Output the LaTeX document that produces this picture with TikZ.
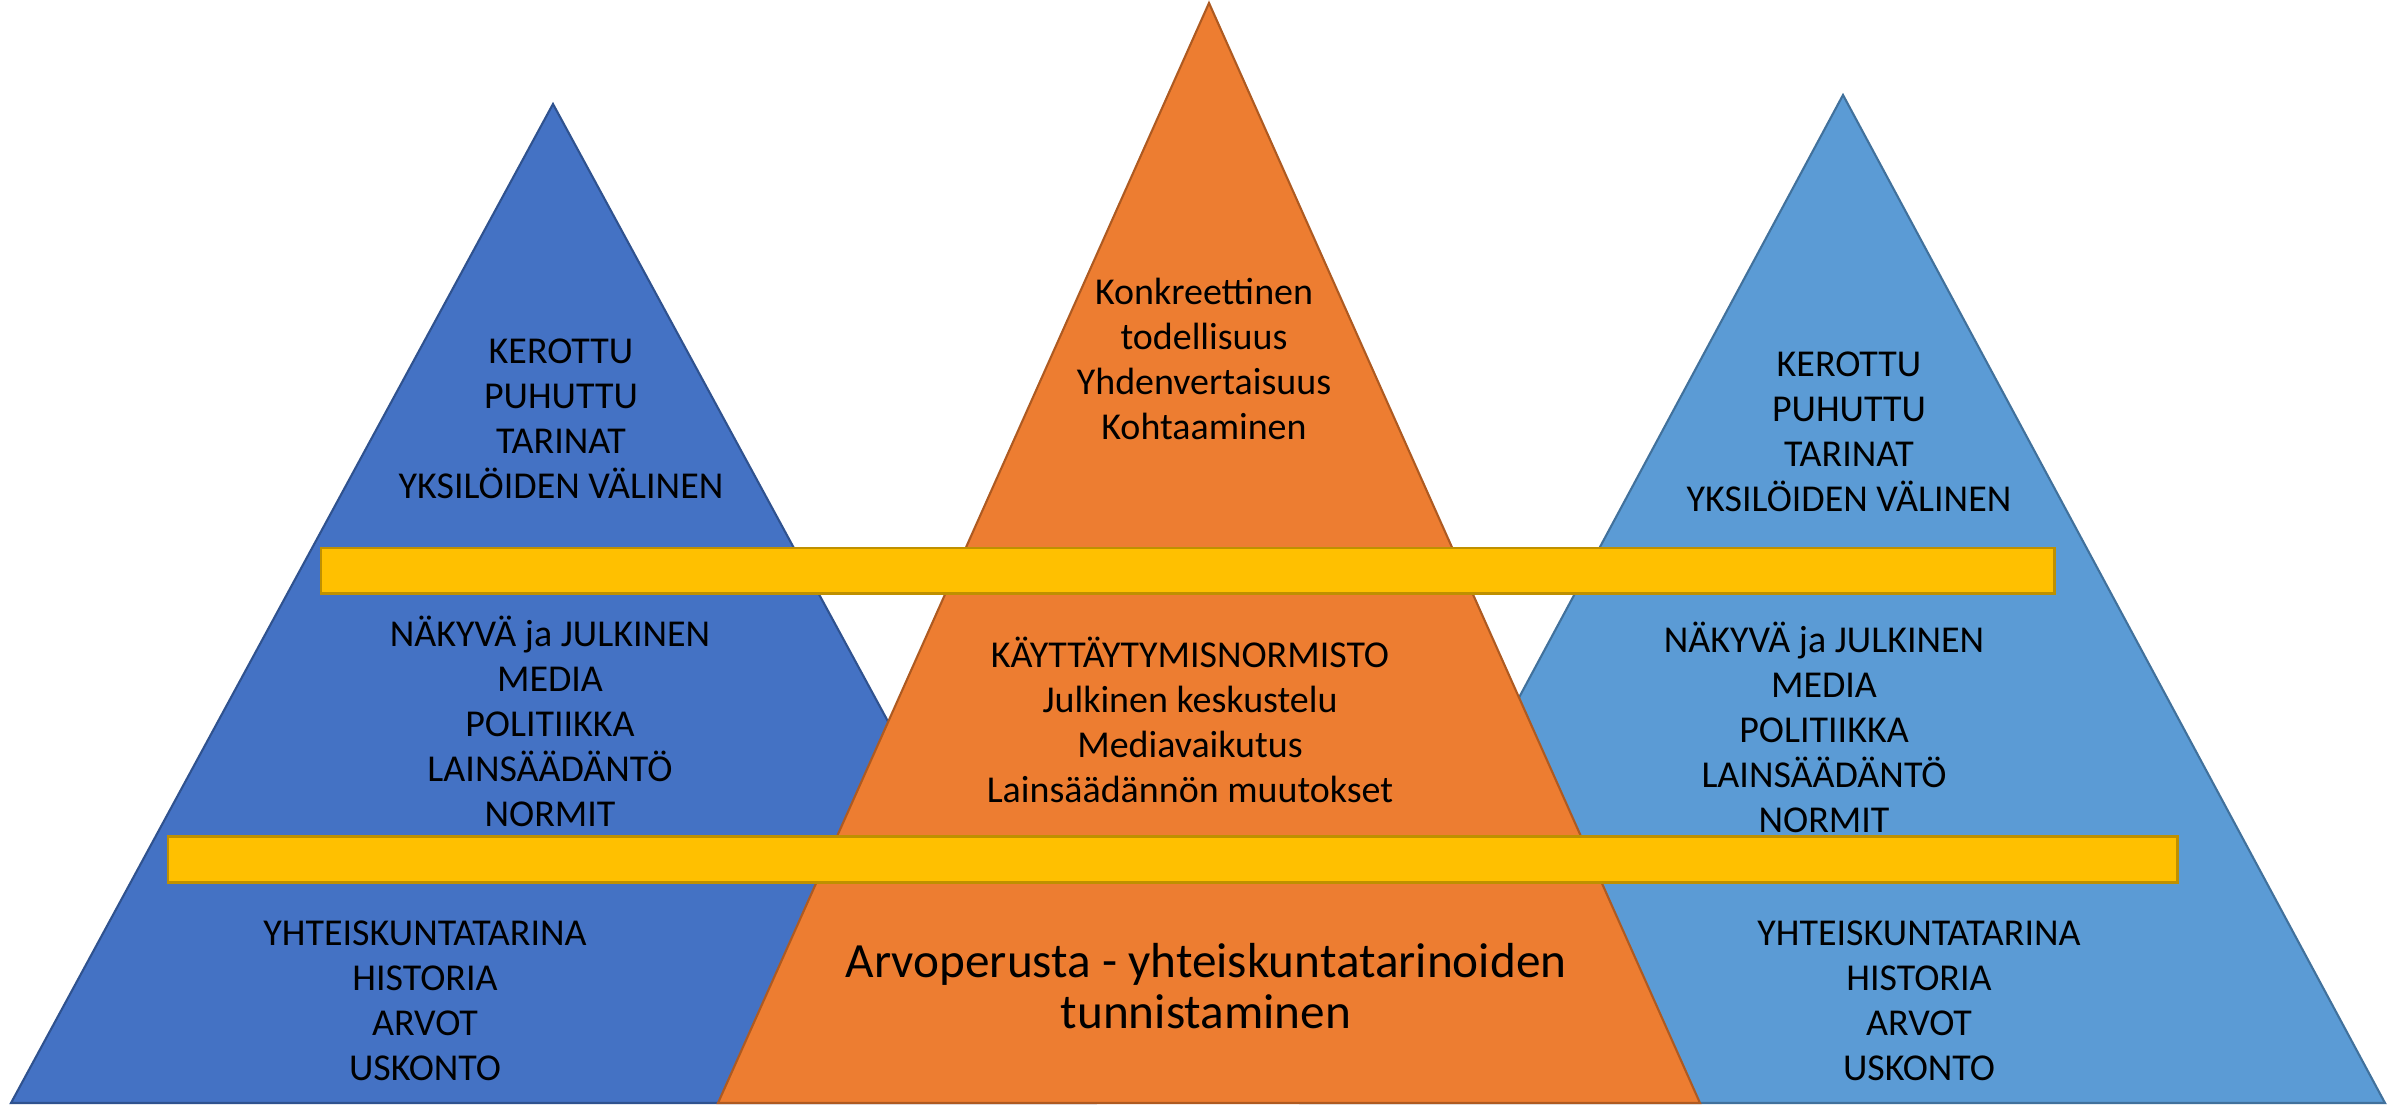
\documentclass[tikz,border=0pt]{standalone}
\usepackage{fontspec}
\setmainfont{Carlito}
\usepackage{tikz}
\usetikzlibrary{positioning}

\definecolor{leftblue}{HTML}{4472C4}
\definecolor{leftline}{HTML}{2F528F}
\definecolor{rightblue}{HTML}{5B9BD5}
\definecolor{rightline}{HTML}{41719C}
\definecolor{midorange}{HTML}{ED7D31}
\definecolor{midline}{HTML}{AE5A21}
\definecolor{bargold}{HTML}{FFC000}
\definecolor{barline}{HTML}{BF9000}

\begin{document}
\begin{tikzpicture}[x=0.01cm,y=-0.01cm,
    txt/.style={align=center,inner sep=0pt,font=\fontsize{10.8}{12.8}\selectfont},
    bar/.style={fill=bargold,draw=barline,line width=0.85pt}]

\useasboundingbox (0,0) rectangle (2396,1106);

% triangles
\draw[fill=leftblue,draw=leftline,line width=0.6pt]
    (11,1103) -- (553,104) -- (1095,1103) -- cycle;
\draw[fill=rightblue,draw=rightline,line width=0.6pt]
    (1301,1103) -- (1843,95) -- (2385,1103) -- cycle;
\draw[fill=midorange,draw=midline,line width=0.6pt]
    (718,1103) -- (1209,3) -- (1700,1103) -- cycle;

% bars
\draw[bar] (321,548) rectangle (2054,593);
\draw[bar] (168,836) rectangle (2177,882);

% left
\node[txt] (ltop) at (561,419) {KEROTTU\\PUHUTTU\\TARINAT\\YKSILÖIDEN VÄLINEN};
\node[txt] (lmid) at (550,721) {NÄKYVÄ ja JULKINEN\\MEDIA\\POLITIIKKA\\LAINSÄÄDÄNTÖ\\NORMIT};
\node[txt] (lbot) at (425,1001) {YHTEISKUNTATARINA\\HISTORIA\\ARVOT\\USKONTO};

% middle
\node[txt] (mtop) at (1204,359) {Konkreettinen\\todellisuus\\Yhdenvertaisuus\\Kohtaaminen};
\node[txt] (mmid) at (1190,720) {KÄYTTÄYTYMISNORMISTO\\Julkinen keskustelu\\Mediavaikutus\\Lainsäädännön muutokset};
\node[txt,font=\fontsize{14}{14.5}\selectfont] (mbot) at (1206,986)
    {Arvoperusta - yhteiskuntatarinoiden\\tunnistaminen};

% right
\node[txt] (rtop) at (1849,432) {KEROTTU\\PUHUTTU\\TARINAT\\YKSILÖIDEN VÄLINEN};
\node[txt] (rmid) at (1824,727) {NÄKYVÄ ja JULKINEN\\MEDIA\\POLITIIKKA\\LAINSÄÄDÄNTÖ\\NORMIT};
\node[txt] (rbot) at (1919,1001) {YHTEISKUNTATARINA\\HISTORIA\\ARVOT\\USKONTO};

\end{tikzpicture}
\end{document}
